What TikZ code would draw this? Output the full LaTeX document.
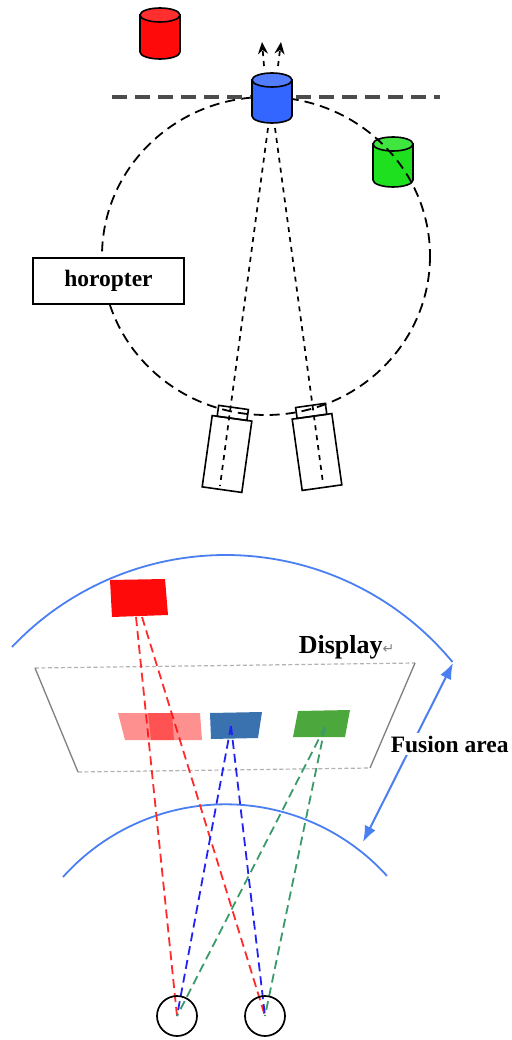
\documentclass[tikz,border=0pt]{standalone}
\usepackage{fontspec}
\setmainfont{Liberation Serif}
\newfontfamily\arrowfont{DejaVu Sans}
\usetikzlibrary{arrows.meta}

\definecolor{cylred}{HTML}{FF0A0A}
\definecolor{cylblue}{HTML}{3366FF}
\definecolor{cylgreen}{HTML}{1EE01E}
\definecolor{arcblue}{HTML}{4A7FF2}
\definecolor{rayred}{HTML}{FF2A2A}
\definecolor{rayblue}{HTML}{2222F5}
\definecolor{raygreen}{HTML}{3A9A6A}
\definecolor{patchblue}{HTML}{3A72B0}
\definecolor{patchgreen}{HTML}{4CA83C}

% cylinder: centre x, top y, height, colour
\newcommand\mycyl[4]{
    \draw[fill=#4] (#1-20,#2) -- (#1-20,#2+#3) arc[start angle=180, end angle=0, x radius=20, y radius=7] -- (#1+20,#2) -- cycle;
    \draw[fill=#4!85!white] (#1,#2) ellipse[x radius=20, y radius=7];
}
% camera: centre x, centre y, tilt
\newcommand\mycam[3]{
    \begin{scope}[shift={(#1,#2)}, rotate=#3]
        \draw (-20,-36) rectangle (20,36);
        \draw (-15,-47) rectangle (15,-36);
    \end{scope}
}

\tikzset{
    horo/.style={dash pattern=on 10pt off 6pt, line width=1.8pt},
    sight/.style={dash pattern=on 5pt off 5pt, line width=1.7pt},
    ray/.style={dash pattern=on 9pt off 5pt, line width=1.8pt},
    label/.style={font=\fontsize{23.5}{26}\selectfont\bfseries, inner sep=3pt},
}

\begin{document}
\begin{tikzpicture}[x=1pt, y=1pt, yscale=-1, line width=1.6pt]
    \fill[white] (0,0) rectangle (511,1040);
    \useasboundingbox (0,0) rectangle (511,1040);

    % Horopter with the two cameras
    \mycyl{393}{144}{36}{cylgreen}
    \draw[horo] (266,256) ellipse[x radius=164, y radius=159];
    \draw[black!70, line width=3.2pt, dash pattern=on 15pt off 8pt] (112,97) -- (440,97);
    \mycyl{272}{80}{36}{cylblue}
    \mycyl{160}{15}{37}{cylred}

    \coordinate (blueL) at (268,128);
    \coordinate (blueR) at (275,128);
    \coordinate (camL) at (220,486);
    \coordinate (camR) at (323,483);
    \draw[sight] (blueL) -- (camL);
    \draw[sight] (blueR) -- (camR);

    \coordinate (upLs) at (264,66);
    \coordinate (upLe) at (262,42);
    \coordinate (upRs) at (278,66);
    \coordinate (upRe) at (281,42);
    \draw[sight, -{Stealth[length=12pt,width=10pt]}] (upLs) -- (upLe);
    \draw[sight, -{Stealth[length=12pt,width=10pt]}] (upRs) -- (upRe);

    \mycam{227}{454}{8}
    \mycam{317}{452}{-8}

    \node[label, draw, line width=2pt, fill=white, minimum width=151pt, minimum height=46pt] (horopter) at (108.5,281) {horopter};

    % Display and fusion area
    \draw[arcblue, line width=1.8pt] (12,647) arc[start angle=-136.6, end angle=-39.5, radius=294];
    \draw[arcblue, line width=1.8pt] (63,877) arc[start angle=-138.2, end angle=-42.2, radius=218];

    \draw[gray!60, line width=1.2pt, dash pattern=on 4pt off 2.5pt] (35,668) -- (415,663);
    \draw[gray!60, line width=1.2pt, dash pattern=on 4pt off 2.5pt] (78,772) -- (370,768);
    \draw[gray, line width=1.3pt] (35,668) -- (78,772);
    \draw[gray, line width=1.3pt] (415,663) -- (370,768);

    \coordinate (eyeL) at (177,1016);
    \coordinate (eyeR) at (265,1016);
    \coordinate (redL) at (136,617);
    \coordinate (redR) at (142,617);
    \coordinate (blueC) at (231,726);
    \coordinate (greenC) at (325,727);

    \fill[cylred] (110,580) -- (165,579) -- (168,615) -- (112,617) -- cycle;
    \draw[ray, rayred] (redL) -- (eyeL);
    \draw[ray, rayred] (redR) -- (eyeR);

    \fill[cylred, fill opacity=0.45] (118,713) -- (172,713) -- (174,740) -- (125,740) -- cycle;
    \fill[cylred, fill opacity=0.45] (148,713) -- (200,713) -- (202,740) -- (151,740) -- cycle;
    \fill[patchblue] (210,713) -- (262,712) -- (258,738) -- (211,739) -- cycle;
    \fill[patchgreen] (298,711) -- (350,710) -- (345,737) -- (293,737) -- cycle;

    \draw[ray, rayblue] (blueC) -- (eyeL);
    \draw[ray, rayblue] (blueC) -- (eyeR);
    \draw[ray, raygreen] (greenC) -- (eyeL);
    \draw[ray, raygreen] (greenC) -- (eyeR);

    \draw[line width=1.7pt] (eyeL) circle[radius=20];
    \draw[line width=1.7pt] (eyeR) circle[radius=20];

    \coordinate (fusTop) at (453,663);
    \coordinate (fusBot) at (363,842);
    \draw[arcblue, line width=2pt, {Latex[length=16pt,width=12pt]}-{Latex[length=16pt,width=12pt]}] (fusTop) -- (fusBot);

    \node[label, anchor=base west, inner sep=0pt] (display) at (298,653) {\fontsize{26}{28}\selectfont Display{\arrowfont\mdseries\fontsize{14}{16}\selectfont\color{gray}↵}};
    \node[label, anchor=base west, fill=white] (fusion) at (387,752) {Fusion area};
\end{tikzpicture}
\end{document}
